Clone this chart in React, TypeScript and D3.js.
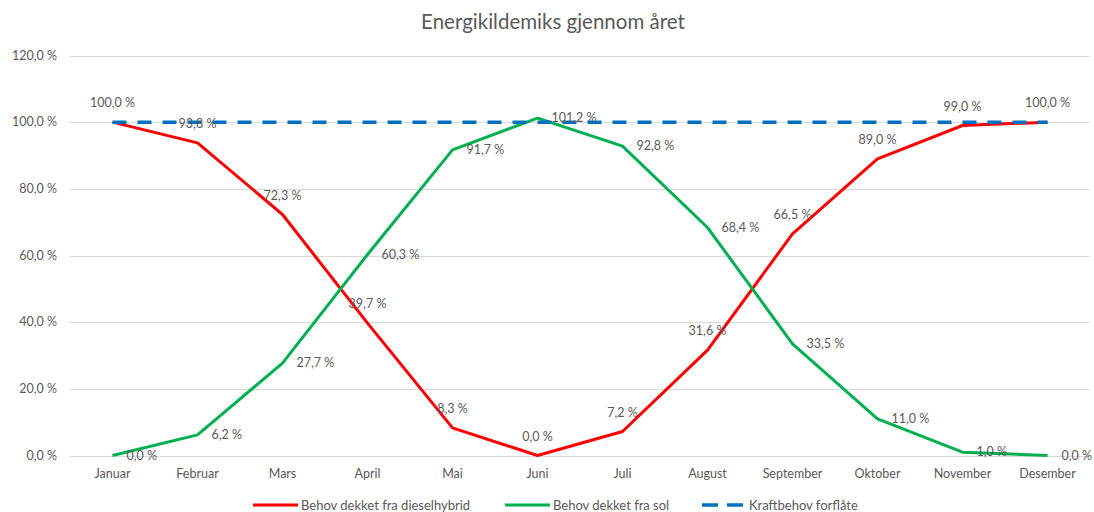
import React from "react";
import * as d3 from "d3";

const months = ["Januar","Februar","Mars","April","Mai","Juni","Juli","August","September","Oktober","November","Desember"];
const diesel = [100.0, 93.8, 72.3, 39.7, 8.3, 0.0, 7.2, 31.6, 66.5, 89.0, 99.0, 100.0];
const sol = [0.0, 6.2, 27.7, 60.3, 91.7, 101.2, 92.8, 68.4, 33.5, 11.0, 1.0, 0.0];
const behov = [100, 100, 100, 100, 100, 100, 100, 100, 100, 100, 100, 100];
const yTicks = [0, 20, 40, 60, 80, 100, 120];
const seriesNames = ["Behov dekket fra dieselhybrid", "Behov dekket fra sol", "Kraftbehov forflåte"];

const W = 1094, H = 512;
const FONT = "Lato, 'Open Sans', sans-serif";
const TXT = "#595959";
const RED = "#FF0000", GREEN = "#00B050", BLUE = "#0070C0";

const fmt = (v: number) => v.toFixed(1).replace(".", ",") + " %";

export default function App() {
  const x = d3.scaleBand<string>().domain(months).range([70, 1090]);
  const cx = (m: string) => (x(m) as number) + x.bandwidth() / 2;
  const y = d3.scaleLinear().domain([0, 120]).range([455.5, 55.5]);
  const line = d3.line<number>().x((_, i) => cx(months[i])).y((d) => y(d));

  return (
    <svg width={W} height={H} style={{ position: "absolute", left: 0, top: 0, background: "#fff" }} fontFamily={FONT}>
      <rect x={0} y={0} width={W} height={H} fill="#fff" />
      <text x={553} y={29} textAnchor="middle" fontSize={20.5} fill={TXT}>Energikildemiks gjennom året</text>
      {yTicks.map((t) => (
        <g key={t}>
          <line x1={70} x2={1090} y1={Math.round(y(t)) + 0.5} y2={Math.round(y(t)) + 0.5} stroke="#d9d9d9" strokeWidth={1} />
          <text x={57} y={y(t) + 4} textAnchor="end" fontSize={12.5} fill={TXT}>{fmt(t)}</text>
        </g>
      ))}
      {months.map((m) => (
        <text key={m} x={cx(m)} y={478} textAnchor="middle" fontSize={12.5} fill={TXT}>{m}</text>
      ))}
      <path d={line(diesel) || ""} fill="none" stroke={RED} strokeWidth={3} strokeLinejoin="round" />
      <path d={line(sol) || ""} fill="none" stroke={GREEN} strokeWidth={3} strokeLinejoin="round" />
      <path d={line(behov) || ""} fill="none" stroke={BLUE} strokeWidth={3.5} strokeDasharray="14 11" />
      {diesel.map((v, i) => (
        <text key={"d" + i} x={cx(months[i])} y={y(v) - 15} textAnchor="middle" fontSize={12.5} fill={TXT}>{fmt(v)}</text>
      ))}
      {sol.map((v, i) => (
        <text key={"s" + i} x={cx(months[i]) + 14} y={y(v) + 4} textAnchor="start" fontSize={12.5} fill={TXT}>{fmt(v)}</text>
      ))}
      <g fontSize={13} fill={TXT}>
        <line x1={253} x2={298} y1={505} y2={505} stroke={RED} strokeWidth={3} />
        <text x={301} y={509.5}>{seriesNames[0]}</text>
        <line x1={505} x2={550} y1={505} y2={505} stroke={GREEN} strokeWidth={3} />
        <text x={553} y={509.5}>{seriesNames[1]}</text>
        <line x1={702} x2={744} y1={505} y2={505} stroke={BLUE} strokeWidth={3.5} strokeDasharray="16 9" />
        <text x={749} y={509.5}>{seriesNames[2]}</text>
      </g>
    </svg>
  );
}
